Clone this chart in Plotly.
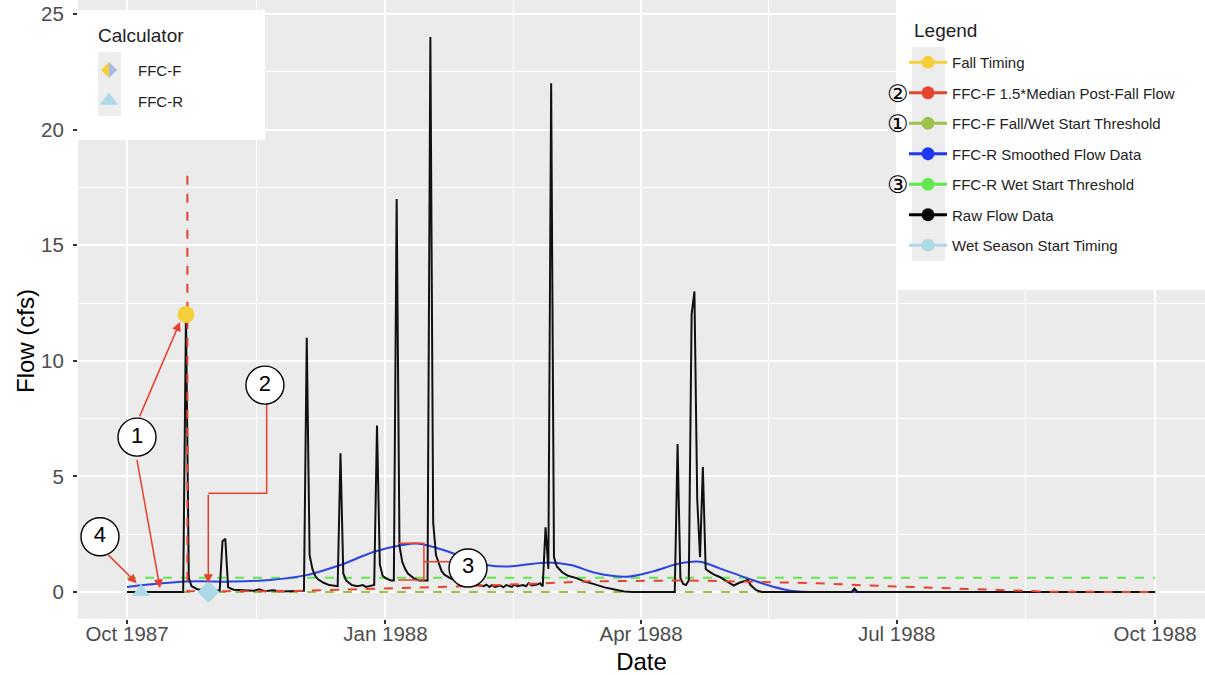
import plotly.graph_objects as go

# ---------------- data ----------------
# Raw daily flow (cfs), water year 1988
raw_dates = [
    "1987-10-01", "1987-10-21", "1987-10-22", "1987-10-23", "1987-10-24", "1987-10-26",
    "1987-10-29", "1987-11-03", "1987-11-04", "1987-11-05", "1987-11-06", "1987-11-08",
    "1987-11-15", "1987-11-17", "1987-11-19", "1987-11-22", "1987-11-25", "1987-12-03",
    "1987-12-04", "1987-12-05", "1987-12-06", "1987-12-07", "1987-12-08", "1987-12-10",
    "1987-12-12", "1987-12-15", "1987-12-16", "1987-12-17", "1987-12-18", "1987-12-20",
    "1987-12-22", "1987-12-24", "1987-12-25", "1987-12-28", "1987-12-29", "1987-12-30",
    "1987-12-31", "1988-01-01", "1988-01-03", "1988-01-04", "1988-01-05", "1988-01-06",
    "1988-01-07", "1988-01-08", "1988-01-09", "1988-01-11", "1988-01-13", "1988-01-16",
    "1988-01-17", "1988-01-18", "1988-01-19", "1988-01-20", "1988-01-21", "1988-01-22",
    "1988-01-24", "1988-01-26", "1988-01-28", "1988-01-30", "1988-02-01", "1988-02-03",
    "1988-02-05", "1988-02-06", "1988-02-07", "1988-02-08", "1988-02-09", "1988-02-11",
    "1988-02-12", "1988-02-13", "1988-02-15", "1988-02-16", "1988-02-17", "1988-02-19",
    "1988-02-20", "1988-02-21", "1988-02-22", "1988-02-24", "1988-02-25", "1988-02-26",
    "1988-02-27", "1988-02-28", "1988-02-29", "1988-03-01", "1988-03-02", "1988-03-04",
    "1988-03-06", "1988-03-09", "1988-03-12", "1988-03-15", "1988-03-19", "1988-03-23",
    "1988-03-26", "1988-03-29", "1988-04-13", "1988-04-14", "1988-04-15", "1988-04-16",
    "1988-04-17", "1988-04-18", "1988-04-19", "1988-04-20", "1988-04-21", "1988-04-22",
    "1988-04-23", "1988-04-24", "1988-04-25", "1988-04-27", "1988-04-29", "1988-05-01",
    "1988-05-03", "1988-05-04", "1988-05-06", "1988-05-08", "1988-05-09", "1988-05-10",
    "1988-05-12", "1988-05-14", "1988-06-15", "1988-06-16", "1988-06-17", "1988-10-01",
]
raw_flow = [
    0.0, 0.0, 12.0, 0.6, 0.25, 0.12,
    0.08, 0.06, 2.2, 2.3, 0.2, 0.1,
    0.05, 0.12, 0.03, 0.08, 0.02, 0.05,
    11.0, 1.6, 1.0, 0.7, 0.55, 0.4,
    0.3, 0.25, 6.0, 0.8, 0.5, 0.3,
    0.25, 0.3, 0.22, 0.3, 7.2, 1.2,
    0.7, 0.6, 0.5, 0.5, 17.0, 2.0,
    1.3, 1.0, 0.8, 0.6, 0.5, 0.5,
    24.0, 3.0, 1.6, 1.2, 0.9, 0.75,
    0.6, 0.5, 0.4, 0.35, 0.3, 0.3,
    0.25, 0.32, 0.22, 0.3, 0.22, 0.28,
    0.2, 0.3, 0.22, 0.32, 0.25, 0.3,
    0.25, 0.38, 0.28, 0.32, 0.38, 0.25,
    2.8, 1.0, 22.0, 1.5, 1.1, 0.85,
    0.7, 0.6, 0.45, 0.35, 0.2, 0.1,
    0.02, 0.0, 0.0, 6.4, 0.6, 0.35,
    0.3, 0.5, 12.0, 13.0, 4.0, 1.5,
    5.4, 1.0, 0.9, 0.75, 0.65, 0.5,
    0.35, 0.28, 0.4, 0.5, 0.52, 0.3,
    0.08, 0.0, 0.0, 0.15, 0.0, 0.0,
]

# FFC-R smoothed flow
smooth_dates = [
    "1987-10-01", "1987-10-22", "1987-11-07", "1987-11-21", "1987-12-04", "1987-12-16",
    "1987-12-28", "1988-01-07", "1988-01-12", "1988-01-17", "1988-01-24", "1988-01-31",
    "1988-02-06", "1988-02-13", "1988-02-19", "1988-02-28", "1988-03-07", "1988-03-16",
    "1988-03-27", "1988-04-05", "1988-04-15", "1988-04-22", "1988-04-29", "1988-05-09",
    "1988-05-18", "1988-05-26", "1988-06-03", "1988-10-01",
]
smooth_flow = [
    0.22, 0.45, 0.45, 0.52, 0.73, 1.17,
    1.74, 2.03, 2.10, 1.98, 1.72, 1.40,
    1.17, 1.10, 1.17, 1.28, 1.17, 0.82,
    0.66, 0.88, 1.24, 1.31, 1.02, 0.59,
    0.23, 0.03, 0.0, 0.0,
]

# FFC-F 1.5 * median post-fall flow
median_dates = [
    "1987-10-22 12:00", "1987-10-22 12:00", "1987-11-30", "1987-12-20", "1988-01-09",
    "1988-01-29", "1988-02-23", "1988-03-14", "1988-04-18", "1988-05-18", "1988-06-03",
    "1988-06-21", "1988-07-10", "1988-07-28", "1988-08-15", "1988-08-25", "1988-10-01",
]
median_flow = [
    18.0, 0.03, 0.04, 0.10, 0.17,
    0.25, 0.36, 0.46, 0.50, 0.42, 0.38,
    0.28, 0.20, 0.14, 0.08, 0.01, 0.0,
]

# Thresholds
threshold_dates = ["1987-10-01", "1988-10-01"]
ffcf_threshold = [0.0, 0.0]
ffcr_threshold = [0.62, 0.62]

# Timing points
fall_timing_date = ["1987-10-22"]
fall_timing_flow = [12.0]
wet_ffcf_date = ["1987-10-30"]
wet_ffcf_flow = [0.0]
wet_ffcr_date = ["1987-10-06"]
wet_ffcr_flow = [0.0]

# Callout markers
callout_labels = ["1", "2", "3", "4"]
callout_dates = ["1987-10-04 13:30", "1987-11-19 02:30", "1988-01-30 09:40", "1987-09-21 09:20"]
callout_flow = [6.70, 8.95, 1.04, 2.39]

# ---------------- styling ----------------
GOLD = "#F6CF3D"
RED = "#E4432F"
OLIVE = "#9DC24C"
BLUE = "#2C44E2"
LGREEN = "#62E84E"
LBLUE = "#ADD8E6"
PERI = "#A9B8E4"
ARROW = "#E8402D"
FONT = "Liberation Sans, Arial, sans-serif"
W, H = 1205, 675
ML, MB = 78, 56
PW, PH = W - ML, H - MB


def px_x(p):
    return (p - ML) / PW


def px_y(p):
    return (PH - p) / PH


fig = go.Figure()


def line(x, y, color, width=2, dash=None, shape="linear"):
    fig.add_trace(go.Scatter(
        x=x, y=y, mode="lines", showlegend=False, hoverinfo="skip",
        line=dict(color=color, width=width, dash=dash, shape=shape),
    ))


line(threshold_dates, ffcf_threshold, OLIVE, 2, "9px,9px")
line(threshold_dates, ffcr_threshold, LGREEN, 2, "9px,9px")
line(smooth_dates, smooth_flow, BLUE, 2, None, "spline")
line(raw_dates, raw_flow, "#111111", 2)
line(median_dates, median_flow, RED, 2, "9px,9px")

fig.add_trace(go.Scatter(x=wet_ffcr_date, y=wet_ffcr_flow, mode="markers", showlegend=False,
                         marker=dict(symbol="triangle-up", size=16, color=LBLUE)))
fig.add_trace(go.Scatter(x=wet_ffcf_date, y=wet_ffcf_flow, mode="markers", showlegend=False,
                         marker=dict(symbol="diamond", size=17, color=LBLUE)))
fig.add_trace(go.Scatter(x=fall_timing_date, y=fall_timing_flow, mode="markers", showlegend=False,
                         marker=dict(symbol="circle", size=17, color=GOLD)))

# Callout connector for (2) and bracket for (3)
fig.add_trace(go.Scatter(
    x=["1987-11-19 17:30", "1987-11-19 17:30", "1987-10-29 22:30"],
    y=[8.30, 4.27, 4.27], mode="lines", showlegend=False, hoverinfo="skip",
    line=dict(color=ARROW, width=1.5)))
fig.add_trace(go.Scatter(
    x=["1988-01-05 14:24", "1988-01-14 16:48", "1988-01-14 16:48", "1988-01-05 14:24", None,
       "1988-01-14 16:48", "1988-01-24 00:00"],
    y=[2.11, 2.11, 0.52, 0.52, None, 1.31, 1.31], mode="lines", showlegend=False,
    hoverinfo="skip", line=dict(color=ARROW, width=1.5)))

fig.add_trace(go.Scatter(
    x=callout_dates, y=callout_flow, mode="markers+text", text=callout_labels,
    textposition="middle center", showlegend=False, hoverinfo="skip",
    textfont=dict(family=FONT, size=22, color="black"),
    marker=dict(symbol="circle", size=38, color="white", line=dict(color="black", width=1.4))))

# Legend entries
legend_items = [
    ("Fall Timing", GOLD),
    ("FFC-F 1.5*Median Post-Fall Flow", RED),
    ("FFC-F Fall/Wet Start Threshold", OLIVE),
    ("FFC-R Smoothed Flow Data", "#1E38F2"),
    ("FFC-R Wet Start Threshold", LGREEN),
    ("Raw Flow Data", "black"),
    ("Wet Season Start Timing", LBLUE),
]
for name, color in legend_items:
    fig.add_trace(go.Scatter(
        x=[None], y=[None], mode="lines+markers", name=name, legend="legend",
        legendgroup=name, line=dict(color=color, width=3),
        marker=dict(color=color, size=13)))

# Calculator entries (FFC-F key is a two-tone diamond drawn beneath the entry)
fig.add_trace(go.Scatter(
    x=[None], y=[None], mode="markers", name="FFC-F", legend="legend2", legendgroup="ffcf",
    marker=dict(symbol="diamond", size=16, color="rgba(0,0,0,0)")))
fig.add_trace(go.Scatter(
    x=[None], y=[None], mode="markers", name="FFC-R", legend="legend2", legendgroup="ffcr",
    marker=dict(symbol="triangle-up", size=17, color=LBLUE)))

# Arrows
arrows = [
    # (head x, head y, tail x, tail y)
    ("1987-10-19 21:00", 11.68, "1987-10-05 06:30", 7.53),
    ("1987-10-12 18:00", 0.16, "1987-10-04 11:00", 5.78),
    ("1987-10-04 11:00", 0.38, "1987-09-23 18:30", 1.67),
    ("1987-10-29 22:30", 0.38, "1987-10-29 22:30", 4.27),
]
annotations = []
for hx, hy, tx, ty in arrows:
    annotations.append(dict(
        x=hx, y=hy, ax=tx, ay=ty, xref="x", yref="y", axref="x", ayref="y",
        text="", showarrow=True, arrowhead=2, arrowsize=1.2, arrowwidth=1.5,
        arrowcolor=ARROW, standoff=0, startstandoff=0))

# Circled numbers beside legend entries
for sym, ypx in [("②", 94), ("①", 124), ("③", 185)]:
    annotations.append(dict(
        x=px_x(898), y=px_y(ypx), xref="paper", yref="paper",
        text=sym, showarrow=False, xanchor="center", yanchor="middle",
        font=dict(family="DejaVu Sans", size=24, color="black")))

# Legend titles
annotations.append(dict(x=px_x(912), y=px_y(31), xref="paper", yref="paper", text="Legend",
                        showarrow=False, xanchor="left", yanchor="middle",
                        font=dict(family=FONT, size=19, color="#222222")))
annotations.append(dict(x=px_x(96), y=px_y(36), xref="paper", yref="paper", text="Calculator",
                        showarrow=False, xanchor="left", yanchor="middle",
                        font=dict(family=FONT, size=19, color="#222222")))
# Y-axis title
annotations.append(dict(x=-(ML - 25) / PW, y=px_y(341), xref="paper", yref="paper",
                        text="Flow (cfs)", textangle=-90, showarrow=False,
                        xanchor="center", yanchor="middle",
                        font=dict(family=FONT, size=24, color="black")))


def diamond_half(cx, cy, side):
    r = 8
    pts = [(cx, cy - r), (cx + side * r, cy), (cx, cy + r)]
    return "M " + " L ".join(f"{px_x(a):.5f},{px_y(b):.5f}" for a, b in pts) + " Z"


shapes = [
    dict(type="rect", xref="paper", yref="paper", x0=px_x(897), x1=1.0, y0=px_y(290), y1=1.0,
         fillcolor="white", line=dict(width=0), layer="above"),
    dict(type="rect", xref="paper", yref="paper", x0=0.0, x1=px_x(265), y0=px_y(140), y1=px_y(10),
         fillcolor="white", line=dict(width=0), layer="above"),
    dict(type="rect", xref="paper", yref="paper", x0=px_x(912), x1=px_x(945), y0=px_y(261),
         y1=px_y(47), fillcolor="#EDEDED", line=dict(width=0), layer="above"),
    dict(type="rect", xref="paper", yref="paper", x0=px_x(98), x1=px_x(121), y0=px_y(116),
         y1=px_y(52), fillcolor="#EDEDED", line=dict(width=0), layer="above"),
    dict(type="path", xref="paper", yref="paper", path=diamond_half(109, 70, -1),
         fillcolor=GOLD, line=dict(width=0), layer="above"),
    dict(type="path", xref="paper", yref="paper", path=diamond_half(109, 70, 1),
         fillcolor=PERI, line=dict(width=0), layer="above"),
]

fig.update_layout(
    width=W, height=H,
    margin=dict(l=ML, r=0, t=0, b=MB),
    paper_bgcolor="white", plot_bgcolor="#EBEBEB",
    font=dict(family=FONT, color="#333333"),
    shapes=shapes, annotations=annotations,
    legend=dict(
        x=px_x(904), y=px_y(46), xanchor="left", yanchor="top",
        bgcolor="rgba(0,0,0,0)", font=dict(size=15, color="#222222"),
        traceorder="grouped", tracegroupgap=8, itemwidth=38,
    ),
    legend2=dict(
        x=px_x(80), y=px_y(54), xanchor="left", yanchor="top",
        bgcolor="rgba(0,0,0,0)", font=dict(size=15, color="#222222"),
        traceorder="grouped", tracegroupgap=8, itemwidth=48,
    ),
    xaxis=dict(
        type="date",
        range=["1987-09-13 13:26", "1988-10-18 18:14"],
        tick0="1987-10-01", dtick="M3", tickformat="%b %Y",
        ticks="outside", ticklen=4, tickwidth=1.5, tickcolor="#333333",
        tickfont=dict(size=20.5, color="#4D4D4D"), ticklabelstandoff=-8,
        showgrid=True, gridcolor="white", gridwidth=1.6, zeroline=False, showline=False,
        minor=dict(tickmode="array",
                   tickvals=["1987-11-16", "1988-02-15 12:00", "1988-05-16 12:00", "1988-08-16"],
                   showgrid=True, gridcolor="white", gridwidth=0.8, ticks=""),
        title=dict(text="Date", font=dict(size=24, color="black"), standoff=14),
    ),
    yaxis=dict(
        range=[-1.168, 25.606],
        tickvals=[0, 5, 10, 15, 20, 25],
        ticks="outside", ticklen=4, tickwidth=1.5, tickcolor="#333333",
        tickfont=dict(size=20.5, color="#4D4D4D"), ticklabelstandoff=5,
        showgrid=True, gridcolor="white", gridwidth=1.6, zeroline=False, showline=False,
        minor=dict(tickmode="array", tickvals=[2.5, 7.5, 12.5, 17.5, 22.5],
                   showgrid=True, gridcolor="white", gridwidth=0.8, ticks=""),
    ),
)

fig.write_html("out.html")
